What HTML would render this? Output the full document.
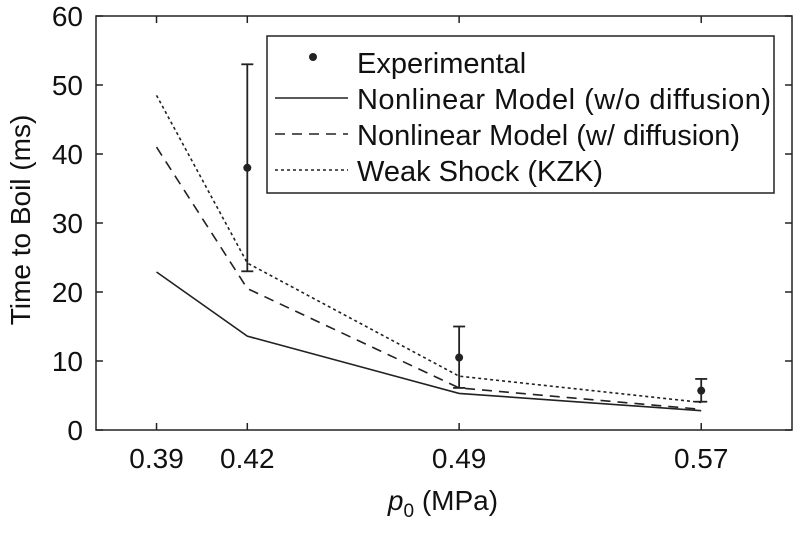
<!DOCTYPE html>
<html><head><meta charset="utf-8"><style>
body{margin:0;background:#fff}
svg{display:block;font-family:"Liberation Sans",Arial,sans-serif}
</style></head><body>
<svg id="chart" width="800" height="535" xmlns="http://www.w3.org/2000/svg"></svg>
<script>
const categories=[0.39,0.42,0.49,0.57];
const yTicks=[0,10,20,30,40,50,60];
const solidVals=[22.9,13.6,5.3,2.8];
const dashedVals=[41,20.5,6.1,3.0];
const dottedVals=[48.5,24.2,7.8,4.0];
const expX=[0.42,0.49,0.57];
const expVals=[38,10.5,5.7];
const expLow=[23,6.1,4.1];
const expHigh=[53,15,7.4];
const legendLabels=["Experimental","Nonlinear Model (w/o diffusion)","Nonlinear Model (w/ diffusion)","Weak Shock (KZK)"];

const L=96,R=792,T=16,B=430,xmin=0.37,xmax=0.6,ymin=0,ymax=60;
const sx=v=>L+(v-xmin)/(xmax-xmin)*(R-L);
const sy=v=>B-(v-ymin)/(ymax-ymin)*(B-T);
const svg=document.getElementById('chart');
const NS='http://www.w3.org/2000/svg';
function mk(tag,attrs,parent){const e=document.createElementNS(NS,tag);for(const k in attrs)e.setAttribute(k,attrs[k]);(parent||svg).appendChild(e);return e;}

let frame=mk('rect',{x:L,y:T,width:R-L,height:B-T,fill:'none',stroke:'#222','stroke-width':1.5});



yTicks.forEach(v=>{
  const y=sy(v);
  let t=mk('line',{x1:L,x2:L+7,y1:y,y2:y,stroke:'#222','stroke-width':1.5});
  
  
  let t2=mk('line',{x1:R-7,x2:R,y1:y,y2:y,stroke:'#222','stroke-width':1.5});
  
  
  let lb=mk('text',{x:L-13,y:y+10,'text-anchor':'end','font-size':28,fill:'#111'});
  lb.textContent=v;
  
  
});
categories.forEach(v=>{
  const x=sx(v);
  let t=mk('line',{x1:x,x2:x,y1:B,y2:B-7,stroke:'#222','stroke-width':1.5});
  
  
  let t2=mk('line',{x1:x,x2:x,y1:T,y2:T+7,stroke:'#222','stroke-width':1.5});
  
  
  let lb=mk('text',{x:x,y:B+38,'text-anchor':'middle','font-size':28,fill:'#111'});
  lb.textContent=v.toFixed(2);
  
  
});

function series(vals,dash,name){
  const pts=vals.map((v,i)=>sx(categories[i])+','+sy(v)).join(' ');
  const a={points:pts,fill:'none',stroke:'#222','stroke-width':1.6};
  if(dash)a['stroke-dasharray']=dash;
  let p=mk('polyline',a);
  
  
}
series(solidVals,null,'line-without-diffusion');
series(dashedVals,'10,7','line-with-diffusion');
series(dottedVals,'3,3','line-weak-shock');

expVals.forEach((v,i)=>{
  const x=sx(expX[i]);
  let g=mk('g',{});
  
  
  mk('line',{x1:x,x2:x,y1:sy(expLow[i]),y2:sy(expHigh[i]),stroke:'#222','stroke-width':1.8},g);
  mk('line',{x1:x-6,x2:x+6,y1:sy(expLow[i]),y2:sy(expLow[i]),stroke:'#222','stroke-width':1.8},g);
  mk('line',{x1:x-6,x2:x+6,y1:sy(expHigh[i]),y2:sy(expHigh[i]),stroke:'#222','stroke-width':1.8},g);
  mk('circle',{cx:x,cy:sy(v),r:4,fill:'#222'},g);
});

let lg=mk('g',{});


mk('rect',{x:267,y:36,width:507,height:157,fill:'#fff',stroke:'#222','stroke-width':1.5},lg);
const rowY=[62,98,134,170];
legendLabels.forEach((s,i)=>{
  const y=rowY[i];
  let e=mk('g',{},lg);
  
  
  if(i===0) mk('circle',{cx:313,cy:y-5,r:4,fill:'#222'},e);
  else{
    const a={x1:275,x2:348,y1:y,y2:y,stroke:'#222','stroke-width':1.6};
    if(i===2)a['stroke-dasharray']='10,7';
    if(i===3)a['stroke-dasharray']='3,3';
    mk('line',a,e);
  }
  const t=mk('text',{x:357,y:y+11,'font-size':29,fill:'#111',textLength:i===1?414:null});
  if(i!==1)t.removeAttribute('textLength');
  e.appendChild(t);
  t.textContent=s;
});

let yl=mk('text',{x:0,y:0,transform:'translate(30,220) rotate(-90)','text-anchor':'middle','font-size':28,fill:'#111'});
yl.textContent='Time to Boil (ms)';


let xl=mk('text',{x:443,y:510,'text-anchor':'middle','font-size':28,fill:'#111'});
xl.innerHTML='<tspan font-style="italic">p</tspan><tspan font-size="19" dy="7">0</tspan><tspan dy="-7"> (MPa)</tspan>';


</script>
</body></html>
